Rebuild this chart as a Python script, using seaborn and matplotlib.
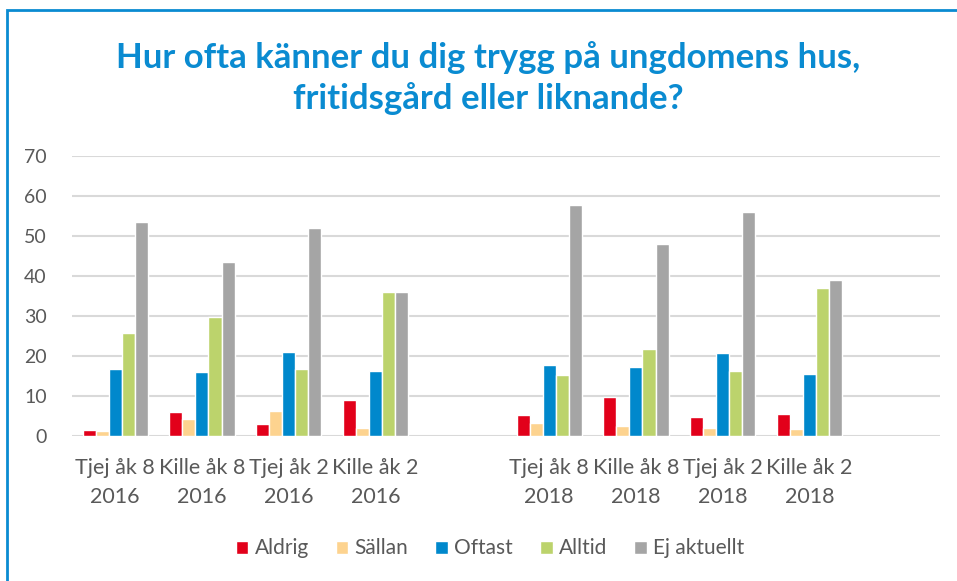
import pandas as pd
import numpy as np
import seaborn as sns
import matplotlib.pyplot as plt
from matplotlib.patches import Rectangle

# categories (two empty slots, like the original sheet)
categories = ["Tjej åk 8\n2016", "Kille åk 8\n2016", "Tjej åk 2\n2016", "Kille åk 2\n2016", "gap1",
              "Tjej åk 8\n2018", "Kille åk 8\n2018", "Tjej åk 2\n2018", "Kille åk 2\n2018", "gap2"]
real_cats = [c for c in categories if not c.startswith("gap")]

series = ["Aldrig", "Sällan", "Oftast", "Alltid", "Ej aktuellt"]
aldrig = [1.4, 5.9, 3.0, 8.9, 5.3, 9.8, 4.7, 5.6]
sallan = [1.3, 4.3, 6.3, 2.1, 3.3, 2.4, 2.1, 1.8]
oftast = [16.8, 16.0, 21.1, 16.3, 17.8, 17.2, 20.8, 15.6]
alltid = [25.8, 29.8, 16.8, 35.9, 15.2, 21.7, 16.3, 37.1]
ej_aktuellt = [53.6, 43.6, 51.9, 35.9, 57.7, 48.1, 55.9, 39.0]

colors = ["#E2001A", "#FDD38F", "#0088CC", "#BCD36C", "#A5A5A5"]

rows = []
for name, vals in zip(series, [aldrig, sallan, oftast, alltid, ej_aktuellt]):
    for cat, v in zip(real_cats, vals):
        rows.append({"kategori": cat, "svar": name, "andel": v})
df = pd.DataFrame(rows)

sns.set_style("white")
plt.rcParams["font.family"] = ["Lato", "DejaVu Sans"]

fig = plt.figure(figsize=(9.57, 5.81), dpi=100)
ax = fig.add_axes([0.075, 0.2496, 0.907, 0.4819])

sns.barplot(data=df, x="kategori", y="andel", hue="svar", order=categories,
            hue_order=series, palette=colors, saturation=1, width=0.75,
            edgecolor="white", linewidth=1, ax=ax, legend=True)

ax.set_ylim(0, 70)
ax.set_yticks(range(0, 71, 10))
ax.yaxis.grid(True, color="#D9D9D9", linewidth=1.5)
ax.set_axisbelow(True)
for s in ax.spines.values():
    s.set_visible(False)
ax.set_xlabel("")
ax.set_ylabel("")
ax.set_xticks(range(len(categories)))
ax.set_xticklabels([c if not c.startswith("gap") else "" for c in categories],
                   fontsize=15.5, color="#595959", linespacing=1.55)
ax.tick_params(axis="y", labelsize=14, labelcolor="#595959", pad=18, length=0)
ax.tick_params(axis="x", pad=16, length=0)

h, l = ax.get_legend_handles_labels()
ax.legend_.remove()
fig.legend(h, l, loc="center", bbox_to_anchor=(0.512, 0.056), ncol=5, frameon=False,
           fontsize=15, labelcolor="#595959", handlelength=0.6, handleheight=0.6,
           handletextpad=0.3, columnspacing=1.3)

fig.text(0.51, 0.865, "Hur ofta känner du dig trygg på ungdomens hus,\nfritidsgård eller liknande?",
         ha="center", va="center", fontsize=25, fontweight="bold", color="#0A8BD1",
         linespacing=1.3)

fig.patches.append(Rectangle((0.0073, -0.05), 1.1, 1.05 - 0.0172, transform=fig.transFigure,
                             fill=False, edgecolor="#0A8BD1", linewidth=2))

fig.savefig("out.png", dpi=100)
